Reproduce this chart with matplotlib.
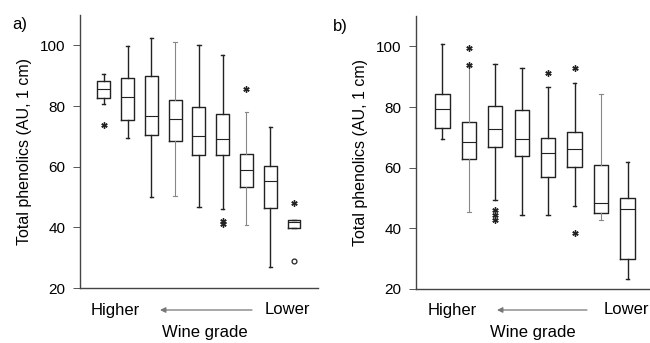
import matplotlib
matplotlib.use('Agg')
import matplotlib.pyplot as plt

plt.rcParams['font.family'] = ['Liberation Sans', 'DejaVu Sans']

# panel a) - nine wine grades, higher -> lower
a_low = [80.8, 69.6, 50.1, 50.4, 46.9, 46.0, 40.7, 27.1, 39.8]
a_q1 = [82.6, 75.3, 70.4, 68.6, 63.8, 63.8, 53.2, 46.5, 39.8]
a_med = [85.8, 83.1, 76.8, 75.7, 70.2, 69.0, 58.9, 55.2, 41.9]
a_q3 = [88.4, 89.2, 89.9, 81.9, 79.6, 77.3, 64.2, 60.4, 42.4]
a_high = [90.7, 99.7, 102.4, 101.0, 100.2, 96.8, 78.1, 73.0, 42.4]
a_star_x = [1, 6, 6, 7, 9]
a_star_y = [73.8, 41.2, 42.0, 85.6, 48.0]
a_circ_x = [9]
a_circ_y = [28.8]

# panel b) - eight wine grades
b_low = [69.4, 45.5, 49.3, 44.4, 44.5, 47.2, 42.7, 23.1]
b_q1 = [73.0, 62.8, 66.9, 63.9, 56.9, 60.1, 44.9, 30.0]
b_med = [79.3, 68.4, 72.7, 69.4, 64.8, 66.1, 48.2, 46.2]
b_q3 = [84.4, 75.0, 80.4, 79.1, 69.9, 71.7, 61.0, 49.9]
b_high = [100.8, 93.4, 94.3, 92.9, 86.6, 87.9, 84.3, 61.7]
b_star_x = [2, 2, 3, 3, 3, 5, 6, 6]
b_star_y = [99.5, 93.9, 46.0, 44.4, 42.7, 91.2, 92.9, 38.5]

yticks = [20, 40, 60, 80, 100]


def draw(ax, low, q1, med, q3, high, gray, xmax):
    stats = []
    for i in range(len(med)):
        stats.append(dict(whislo=low[i], q1=q1[i], med=med[i], q3=q3[i], whishi=high[i], fliers=[]))
    pos = list(range(1, len(med) + 1))
    res = ax.bxp(stats, positions=pos, widths=0.54, capwidths=0.14, showfliers=False,
                 boxprops=dict(color='#222222', lw=1.0),
                 whiskerprops=dict(color='#222222', lw=1.0),
                 capprops=dict(color='#222222', lw=1.0),
                 medianprops=dict(color='#222222', lw=0.8))
    for i in gray:
        for ln in res['whiskers'][2 * i:2 * i + 2] + res['caps'][2 * i:2 * i + 2]:
            ln.set_color('#888888')
            ln.set_linewidth(0.8)
    ax.set_xlim(0, xmax)
    ax.set_ylim(20, 110)
    ax.set_yticks(yticks)
    ax.set_xticks([])
    ax.tick_params(axis='y', labelsize=11, length=5, width=0.7, color='#555555', pad=5.5)
    for s in ['top', 'right']:
        ax.spines[s].set_visible(False)
    for s in ['left', 'bottom']:
        ax.spines[s].set_color('#444444')
        ax.spines[s].set_linewidth(1.0)
    ax.set_ylabel('Total phenolics (AU, 1 cm)', fontsize=11.5, labelpad=6)


fig = plt.figure(figsize=(6.5, 3.43), dpi=100)
ax1 = fig.add_axes([0.123, 0.160, 0.366, 0.796])
ax2 = fig.add_axes([0.640, 0.158, 0.362, 0.795])

draw(ax1, a_low, a_q1, a_med, a_q3, a_high, [3, 6], 10)
ax1.plot(a_star_x, a_star_y, ls='none', marker=(6, 2, 0), ms=4.5, mew=1.0, color='#222222')
ax1.plot(a_circ_x, a_circ_y, ls='none', marker='o', ms=3.5, mfc='white', mec='#222222', mew=0.9)

draw(ax2, b_low, b_q1, b_med, b_q3, b_high, [1, 6], 8.9)
ax2.plot(b_star_x, b_star_y, ls='none', marker=(6, 2, 0), ms=4.5, mew=1.0, color='#222222')

# x-axis annotation under each panel
for ax, xl, xh, xa0, xa1, xw in [(ax1, 115, 287, 252, 160, 205), (ax2, 452, 626, 587, 497, 533)]:
    fig.text(xl / 650, 1 - 310 / 343, 'Higher', ha='center', va='center', fontsize=12)
    fig.text(xh / 650, 1 - 310 / 343, 'Lower', ha='center', va='center', fontsize=12)
    fig.text(xw / 650, 1 - 333 / 343, 'Wine grade', ha='center', va='center', fontsize=12)
    ax.annotate('', xy=(xa1 / 650, 1 - 310 / 343), xytext=(xa0 / 650, 1 - 310 / 343),
                xycoords='figure fraction', textcoords='figure fraction',
                arrowprops=dict(arrowstyle='-|>', color='#777777', lw=0.9,
                                mutation_scale=8, shrinkA=0, shrinkB=0))

fig.text(20 / 650, 1 - 25 / 343, 'a)', ha='center', va='center', fontsize=12)
fig.text(340 / 650, 1 - 27 / 343, 'b)', ha='center', va='center', fontsize=12)

fig.savefig('out.png', dpi=100)
